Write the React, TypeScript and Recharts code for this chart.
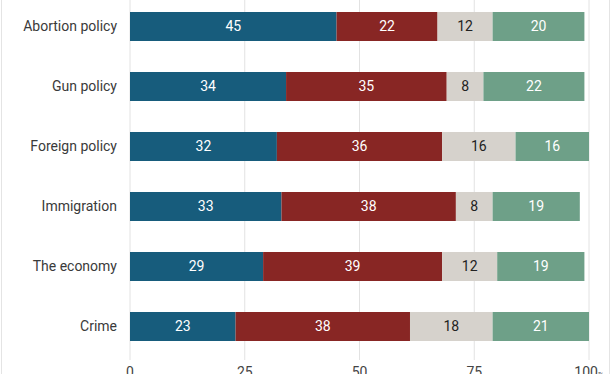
import React from "react";
import { BarChart, Bar, XAxis, YAxis, CartesianGrid, LabelList } from "recharts";

const categories = ["Abortion policy", "Gun policy", "Foreign policy", "Immigration", "The economy", "Crime"];
const seriesA = [45, 34, 32, 33, 29, 23];
const seriesB = [22, 35, 36, 38, 39, 38];
const seriesC = [12, 8, 16, 8, 12, 18];
const seriesD = [20, 22, 16, 19, 19, 21];
const xTicks = [0, 25, 50, 75, 100];

const data = categories.map((name, i) => ({
  name,
  a: seriesA[i],
  b: seriesB[i],
  c: seriesC[i],
  d: seriesD[i],
}));

const FONT = "Roboto, 'Noto Sans', sans-serif";

const XTick = (props: any) => {
  const { x, y, payload } = props;
  const isLast = payload.value === 100;
  return (
    <text x={x} y={y} dy="0.71em" textAnchor="middle" fill="#444" fontSize={14} fontFamily={FONT}>
      {payload.value}
      {isLast ? <tspan fontSize={8}>%</tspan> : null}
    </text>
  );
};

export default function App() {
  return (
    <div style={{ position: "absolute", left: 0, top: 0, width: 612, height: 374, overflow: "hidden", background: "#fff" }}>
      <div style={{ position: "absolute", left: 1, top: 0, width: 607, height: 374, borderLeft: "1px solid #e4e4e4", borderRight: "1px solid #e4e4e4" }} />
      <div style={{ position: "absolute", left: 0, top: -4 }}>
        <BarChart
          width={612}
          height={394}
          data={data}
          layout="vertical"
          margin={{ top: 0, right: 23, bottom: 0, left: 0 }}
          barSize={29}
        >
          <CartesianGrid horizontal={false} stroke="#e2e2e2" />
          <XAxis
            type="number"
            domain={[0, 100]}
            ticks={xTicks}
            axisLine={false}
            tickLine={false}
            tickSize={0}
            tickMargin={7}
            height={30}
            tick={<XTick />}
            interval={0}
          />
          <YAxis
            type="category"
            dataKey="name"
            width={130}
            axisLine={false}
            tickLine={false}
            tickSize={0}
            tickMargin={13}
            padding={{ top: 0, bottom: 4 }}
            tick={{ fill: "#3a3a3a", fontSize: 14, fontFamily: FONT }}
          />
          <Bar dataKey="a" stackId="s" fill="#175c7c" isAnimationActive={false}>
            <LabelList dataKey="a" position="center" fill="#fff" fontSize={14} fontFamily={FONT} />
          </Bar>
          <Bar dataKey="b" stackId="s" fill="#882624" isAnimationActive={false}>
            <LabelList dataKey="b" position="center" fill="#fff" fontSize={14} fontFamily={FONT} />
          </Bar>
          <Bar dataKey="c" stackId="s" fill="#d6d2cc" isAnimationActive={false}>
            <LabelList dataKey="c" position="center" fill="#222" fontSize={14} fontFamily={FONT} />
          </Bar>
          <Bar dataKey="d" stackId="s" fill="#6ea088" isAnimationActive={false}>
            <LabelList dataKey="d" position="center" fill="#fff" fontSize={14} fontFamily={FONT} />
          </Bar>
        </BarChart>
      </div>
    </div>
  );
}
